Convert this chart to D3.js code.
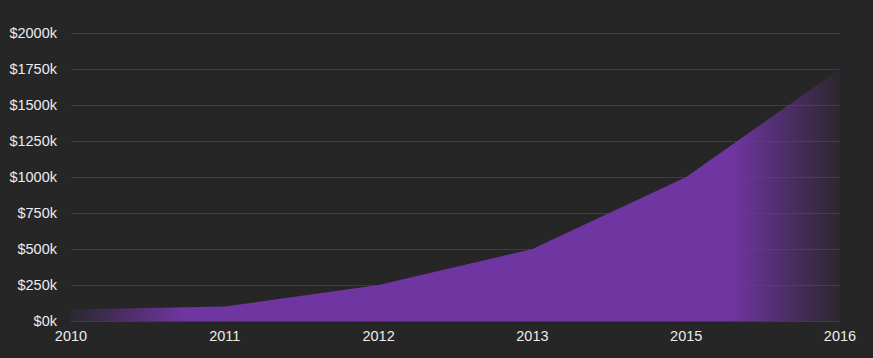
<!DOCTYPE html>
<html><head><meta charset="utf-8">
<script src="https://cdn.jsdelivr.net/npm/d3@7"></script>
<style>
html,body{margin:0;padding:0;background:#262626;}
svg{display:block;}
text{font-family:"Liberation Sans",Arial,Helvetica,sans-serif;}
</style></head>
<body>
<svg id="chart" width="873" height="358"></svg>
<script>
const years = ["2010","2011","2012","2013","2015","2016"];
const revenue = [80, 100, 250, 500, 1000, 1750]; // in $k
const yTicks = [0,250,500,750,1000,1250,1500,1750,2000];

const W = 873, H = 358;
const m = {left:71, right:33, top:33, bottom:37};
const svg = d3.select("#chart");
svg.append("rect").attr("width",W).attr("height",H).attr("fill","#262626");

const x = d3.scalePoint().domain(years).range([m.left, W - m.right]);
const y = d3.scaleLinear().domain([0,2000]).range([H - m.bottom, m.top]);

const defs = svg.append("defs");
const grad = defs.append("linearGradient").attr("id","fade")
  .attr("gradientUnits","userSpaceOnUse")
  .attr("x1", m.left).attr("x2", W - m.right).attr("y1",0).attr("y2",0);
[[0,0.08],[0.145,1],[0.86,1],[1,0.06]].forEach(([o,a])=>{
  grad.append("stop").attr("offset",o).attr("stop-color","#6f35a0").attr("stop-opacity",a);
});

// grid
svg.append("g").selectAll("line").data(yTicks).join("line")
  .attr("x1", m.left).attr("x2", W - m.right)
  .attr("y1", d=>y(d)+0.5).attr("y2", d=>y(d)+0.5)
  .attr("stroke","#3e3e3e").attr("stroke-width",1);

// y labels
svg.append("g").selectAll("text").data(yTicks).join("text")
  .attr("x", m.left - 14).attr("y", d=>y(d)).attr("dy","0.35em")
  .attr("text-anchor","end").attr("fill","#ececec").attr("font-size",14.5)
  .text(d=>"$"+d+"k");

// area
const area = d3.area()
  .x((d,i)=>x(years[i]))
  .y0(y(0)).y1(d=>y(d));
svg.append("path").datum(revenue).attr("d",area).attr("fill","url(#fade)");

// x labels
svg.append("g").selectAll("text").data(years).join("text")
  .attr("x", d=>x(d)).attr("y", H - m.bottom + 20)
  .attr("text-anchor","middle").attr("fill","#ececec").attr("font-size",14.5)
  .text(d=>d);
</script>
</body></html>
